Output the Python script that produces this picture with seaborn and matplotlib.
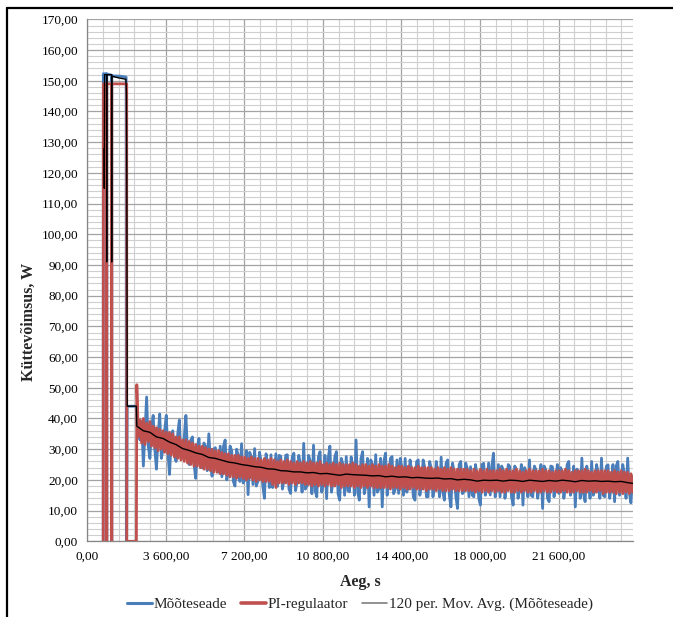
import numpy as np
import pandas as pd
import matplotlib
matplotlib.use('Agg')
import matplotlib.pyplot as plt
from matplotlib.lines import Line2D
from matplotlib.ticker import MultipleLocator
import seaborn as sns

# --- data (time in s, power in W) ---
# start-up phase
meas_start_t = [730, 735, 885, 888, 892, 895, 1114, 1117, 1121, 1124, 1500, 1780, 1790, 1805, 1830, 2250]
meas_start_v = [0, 152.3, 152.3, 0, 0, 152.2, 151.8, 0, 0, 151.6, 151.5, 151.2, 0, 0, 44, 44]

pi_start_t = [730, 735, 885, 888, 892, 895, 1114, 1117, 1121, 1124, 1807, 1810, 2250]
pi_start_v = [0, 149, 149, 0, 0, 149, 149, 0, 0, 149, 149, 0, 0]

avg_start_t = [775, 780, 790, 885, 890, 895, 1114, 1119, 1124, 1400, 1770, 1795, 1805, 1812, 1830, 2250]
avg_start_v = [128, 115, 152, 152, 91, 152, 152, 91, 151.5, 151, 150.5, 146, 130, 117, 44, 44]

# steady phase, sampled every NOISE_DT seconds from NOISE_T0
NOISE_T0 = 2270
NOISE_DT = 75
meas_noise = [
    38, 35, 33, 39, 24.5, 36, 47, 31, 27, 37,
    41, 30, 23.5, 34, 41.5, 27, 30, 36, 41, 29,
    21.8, 33, 36, 28, 26, 35, 39.5, 27, 28, 34,
    41, 29, 25, 33, 34, 25, 20.5, 31, 33.5, 24,
    24, 32, 31, 23, 35, 26, 21.2, 30, 30.5, 24,
    22.5, 31, 21, 31, 33, 20, 23, 31, 29.5, 19.5,
    18, 30, 28, 19.5, 31.8, 19, 20, 29.5, 15.2, 29,
    27.5, 18.5, 30.2, 18, 19.5, 29, 26, 18, 14, 28.5,
    24.5, 17.5, 28.2, 17.5, 21, 28.5, 17.9, 28, 27.7, 17,
    20, 28, 28.2, 17, 15.6, 27.5, 28.7, 16.5, 19.5, 28,
    25, 16, 31.9, 17, 18, 28, 26, 15.5, 31.3, 16.5,
    14.5, 27.5, 29.2, 16, 19, 28, 13.9, 27, 31, 16,
    20, 27.5, 29.2, 15.5, 13.4, 27, 25, 15, 27.6, 16.5,
    16.1, 27.5, 24, 15, 33, 16, 13.4, 27, 29.2, 15.5,
    18, 27, 11.2, 26.5, 25, 15, 28.2, 16, 17, 27,
    11.2, 26, 28.7, 15, 20, 27, 27.6, 15.5, 17, 26.5,
    15.6, 27, 24, 15, 27, 16, 18, 26.5, 23, 14.5,
    13.4, 26, 26.5, 15, 19, 26.5, 24, 14.5, 14.5, 26,
    23.5, 14.5, 18, 26, 22, 14.5, 27.4, 16, 13.4, 25.5,
    26.5, 15, 11.2, 25.5, 22, 14.5, 10.7, 25, 26, 15.5,
    16.2, 25.5, 23.7, 14.5, 24.3, 15, 14.5, 25, 21, 14,
    11.8, 25, 25.4, 15, 18, 25.5, 15.1, 24.5, 28.7, 14.5,
    17, 25, 14.5, 24.5, 23.2, 14, 18, 25, 24.3, 14.5,
    11.8, 24.5, 23.2, 14, 17, 25, 11.8, 24, 22, 14.5,
    26.5, 15, 14.5, 24.5, 23.2, 14, 18, 25, 10.7, 24.5,
    23.2, 14, 12.9, 24.5, 24.3, 14.5, 19, 25, 15.6, 24,
    22.7, 14, 18, 25, 26, 15, 17, 24.5, 11.2, 23.5,
    22, 14, 27.1, 15.5, 12.9, 24.5, 21, 14, 26, 15,
    16.7, 25, 22, 14, 27.1, 15, 14.5, 24.5, 24.9, 14,
    18, 25, 12.9, 24.5, 26, 15, 18, 25, 22, 14,
    27.1, 16, 12.5, 21, 21.5,
]
pi_noise = [
    51, 34, 39.5, 32, 40, 31.5, 38.5, 32.5, 39, 31,
    37.5, 30.5, 37, 29.5, 36.5, 30, 36, 29, 35.5, 28.5,
    35.5, 28, 35, 27.5, 34, 27, 34, 26.5, 33, 26,
    33, 25.5, 32.5, 25, 32, 24.5, 31.5, 24.5, 31, 24,
    31, 23.5, 30.5, 23.5, 30, 23, 30, 22.5, 29.5, 22.5,
    29.5, 22, 29, 22, 28.5, 21.5, 28.5, 21, 28, 21,
    28, 20.5, 28, 21, 27.5, 20.5, 27.5, 20, 27, 20.5,
    27.5, 20, 27, 19.5, 27, 20, 26.5, 19.5, 27, 19.5,
    26.5, 19.5, 27, 18.5, 26.5, 17.5, 26, 19, 26.5, 19,
    26, 19, 26.5, 18.5, 26, 19, 25.5, 18.5, 26, 19,
    25.5, 19, 26, 18.5, 25.5, 18.5, 26, 18, 25.5, 18.5,
    25.5, 18, 26, 18.5, 25, 18, 25.5, 18.5, 25, 18,
    25.5, 18, 25, 18.5, 25.5, 17.5, 25, 18, 25, 18,
    25, 18, 25.5, 17.5, 25, 18, 24.5, 17.5, 25, 18,
    25, 17.5, 24.5, 18, 25, 17.5, 24.5, 17.5, 25, 17.5,
    24.5, 17.5, 24.5, 17.5, 25, 17, 24.5, 17.5, 24, 17.5,
    24.5, 17, 24.5, 17.5, 24, 17, 24.5, 17, 24, 17.5,
    24, 17, 24.5, 17, 24, 17, 24, 16.5, 24, 17,
    24, 17, 23.5, 16.5, 24, 17, 23.5, 16.5, 24, 16.5,
    23.5, 16.5, 24, 17, 23.5, 16.5, 23.5, 16.5, 23.5, 16.5,
    23.5, 16.5, 23.5, 16.5, 23, 16.5, 23.5, 16, 23, 16.5,
    23.5, 16, 23, 16.5, 23.5, 16, 23, 16.5, 23, 16,
    23, 16.5, 23.5, 16, 23, 16, 23.5, 16.5, 23, 16,
    23, 16, 23.5, 16.5, 23, 16, 22.5, 16.5, 23, 16,
    23.5, 16, 23, 16.5, 23, 16, 23, 16, 23.5, 16.5,
    23, 16, 23, 16, 22.5, 16.5, 23, 16, 23, 16,
    23, 16.5, 23.5, 16, 23, 16, 22.5, 16, 23, 16.5,
    23, 16, 23, 16, 23.5, 16, 23, 16.5, 22.5, 16,
    23, 16, 23, 16.5, 23, 15.5, 23, 16, 23, 16,
    22.5, 16, 23, 15.5, 22.5, 16, 23, 15.5, 22.5, 16,
    22.5, 15.5, 22, 16, 21.5,
]

# 120-period moving average, read every AVG_DT seconds from NOISE_T0
AVG_DT = 300
avg_noise = [
    37.5, 36.0, 35.5, 34.0, 33.5, 32.3, 31.5, 30.2, 29.6, 28.8,
    28.3, 27.3, 27.0, 26.4, 25.8, 25.5, 25.0, 24.7, 24.3, 24.1,
    23.6, 23.5, 23.0, 22.9, 22.6, 22.6, 22.3, 22.4, 22.0, 22.1,
    21.8, 21.5, 21.9, 21.7, 21.6, 21.5, 21.3, 21.4, 21.0, 21.2,
    20.9, 21.0, 20.7, 20.8, 20.6, 20.5, 20.6, 20.3, 20.4, 20.0,
    20.2, 20.0, 19.6, 19.9, 19.8, 19.9, 19.6, 19.9, 19.8, 19.5,
    19.9, 19.7, 19.5, 19.8, 19.6, 19.9, 19.7, 19.4, 19.8, 19.6,
    19.7, 19.5, 19.6, 19.4, 19.5, 19.1, 18.8,
]

x_ticks = [0, 3600, 7200, 10800, 14400, 18000, 21600]
x_tick_labels = ['0,00', '3 600,00', '7 200,00', '10 800,00', '14 400,00', '18 000,00', '21 600,00']
y_ticks = list(range(0, 171, 10))
y_tick_labels = ['%d,00' % v for v in y_ticks]

labels = ['Mõõteseade', 'PI-regulaator', '120 per. Mov. Avg. (Mõõteseade)']
colors = ['#4a7ebb', '#c0504d', '#000000']

# build series
meas_t = meas_start_t + list(NOISE_T0 + NOISE_DT * np.arange(len(meas_noise)))
meas_v = meas_start_v + meas_noise
pi_t = pi_start_t + list(NOISE_T0 + NOISE_DT * np.arange(len(pi_noise)))
pi_v = pi_start_v + pi_noise
avg_t = avg_start_t + list(NOISE_T0 + AVG_DT * np.arange(len(avg_noise)))
avg_v = avg_start_v + avg_noise

sns.set_style('white')
plt.rcParams['font.family'] = ['Liberation Serif', 'DejaVu Serif']

fig = plt.figure(figsize=(6.73, 6.17), dpi=100)
ax = fig.add_axes([0.1297, 0.1227, 0.8104, 0.8459])

sns.lineplot(x=meas_t, y=meas_v, ax=ax, estimator=None, sort=False,
             color=colors[0], lw=2.0)
sns.lineplot(x=pi_t, y=pi_v, ax=ax, estimator=None, sort=False,
             color=colors[1], lw=2.0)
sns.lineplot(x=avg_t, y=avg_v, ax=ax, estimator=None, sort=False,
             color=colors[2], lw=1.0)

ax.set_xlim(0, 25000)
ax.set_ylim(0, 170)
ax.set_xticks(x_ticks)
ax.set_xticklabels(x_tick_labels)
ax.set_yticks(y_ticks)
ax.set_yticklabels(y_tick_labels)
ax.xaxis.set_minor_locator(MultipleLocator(720))
ax.yaxis.set_minor_locator(MultipleLocator(2))
ax.set_axisbelow(True)
ax.grid(which='major', color='#a3a3a3', lw=0.9)
ax.grid(which='minor', color='#cfcfcf', lw=0.8)

for s in ['top', 'right']:
    ax.spines[s].set_visible(False)
for s in ['left', 'bottom']:
    ax.spines[s].set_color('#868686')
    ax.spines[s].set_linewidth(0.9)
ax.tick_params(which='major', direction='out', length=3.6, width=0.8,
               color='#868686', labelsize=9.5, pad=3, labelcolor='black')
ax.tick_params(which='minor', length=0)

ax.set_xlabel('Aeg, s', fontsize=11.5, fontweight='bold')
ax.set_ylabel('Küttevõimsus, W', fontsize=11.5, fontweight='bold')
ax.xaxis.set_label_coords(0.5, -0.063)
ax.yaxis.set_label_coords(-0.092, 0.42)

handles = [Line2D([], [], color=colors[0], lw=2.2),
           Line2D([], [], color=colors[1], lw=2.6),
           Line2D([], [], color='#7f7f7f', lw=1.2)]
ax.legend(handles, labels, loc='center', bbox_to_anchor=(0.5, -0.121),
          ncol=3, frameon=False, fontsize=11, handlelength=1.6,
          handletextpad=0.15, columnspacing=0.9)

# chart border (cut at the right and bottom)
fig.add_artist(Line2D([0.0104, 1.0], [0.987, 0.987], color='black', lw=1.6))
fig.add_artist(Line2D([0.0104, 0.0104], [0.0, 0.987], color='black', lw=1.6))

fig.savefig('out.png', dpi=100)
